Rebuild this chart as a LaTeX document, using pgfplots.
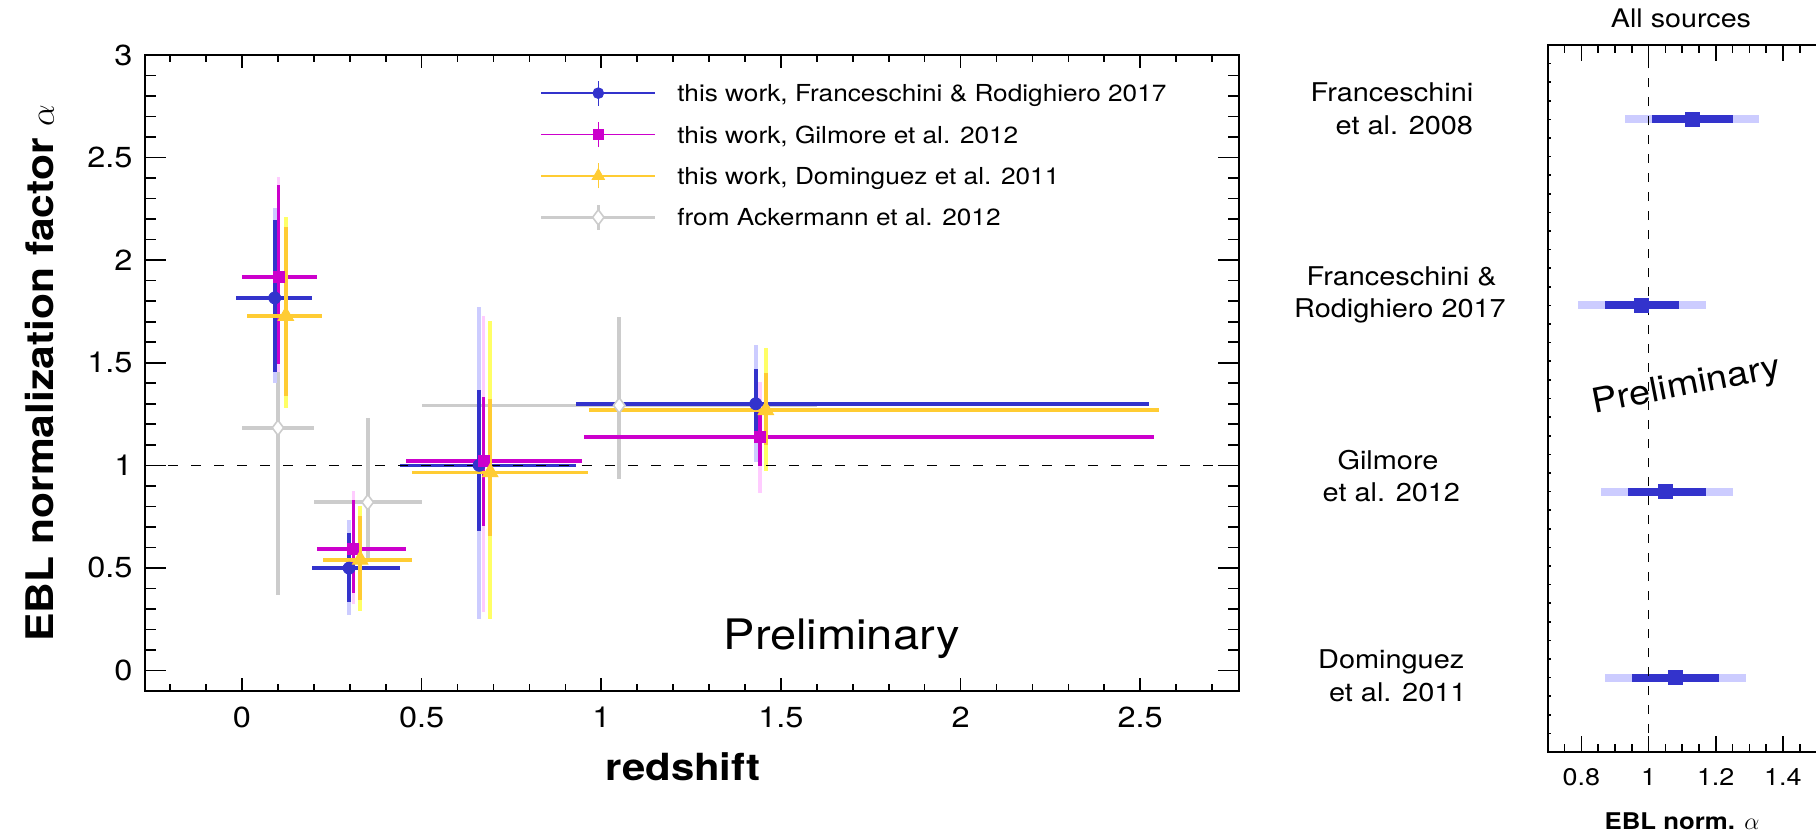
\documentclass[border=0pt]{standalone}
\usepackage{fontspec}
\setmainfont[FakeStretch=1.12]{TeX Gyre Heros}
\usepackage{pgfplots}
\pgfplotsset{compat=1.18}
\usepackage{pgfplotstable}

\definecolor{blueD}{RGB}{51,51,204}
\definecolor{blueL}{RGB}{204,204,255}
\definecolor{magD}{RGB}{204,0,204}
\definecolor{magL}{RGB}{255,204,255}
\definecolor{yelD}{RGB}{255,204,51}
\definecolor{yelL}{RGB}{255,255,102}
\definecolor{grayc}{RGB}{204,204,204}

% z, alpha, bin half-widths (zm,zp), stat errors (dm,dp), total errors (lm,lp)
\pgfplotstableread{
z     a     zm    zp    dm    dp    lm    lp
0.091 1.816 0.107 0.104 0.361 0.381 0.416 0.438
0.298 0.499 0.103 0.143 0.163 0.171 0.228 0.233
0.660 1.000 0.219 0.270 0.322 0.367 0.750 0.772
1.430 1.300 0.500 1.094 0.170 0.171 0.285 0.287
}\frdata

\pgfplotstableread{
z     a     zm    zp    dm    dp    lm    lp
0.102 1.917 0.102 0.107 0.425 0.450 0.464 0.490
0.310 0.592 0.101 0.146 0.215 0.241 0.267 0.285
0.672 1.020 0.216 0.274 0.318 0.313 0.733 0.708
1.441 1.137 0.490 1.097 0.138 0.140 0.271 0.271
}\gildata

\pgfplotstableread{
z     a     zm    zp    dm    dp    lm    lp
0.122 1.728 0.108 0.102 0.390 0.435 0.447 0.484
0.329 0.540 0.103 0.143 0.196 0.211 0.248 0.264
0.691 0.966 0.219 0.273 0.309 0.355 0.716 0.738
1.458 1.269 0.492 1.095 0.169 0.179 0.298 0.305
}\domdata

\pgfplotstableread{
z    a     zm   zp   dm    dp
0.10 1.183 0.10 0.10 0.814 0.940
0.35 0.820 0.15 0.15 0.290 0.409
1.05 1.292 0.55 0.55 0.361 0.429
}\ackdata

% combined fits over all sources: row, alpha, stat (dm,dp), total (lm,lp)
\pgfplotstableread{
row a    dm   dp   lm   lp
4   1.13 0.12 0.12 0.20 0.20
3   0.98 0.11 0.11 0.19 0.19
2   1.05 0.11 0.12 0.19 0.20
1   1.08 0.13 0.13 0.21 0.21
}\alldata

\pgfplotsset{
  panel/.style={
    scale only axis, anchor=south west,
    tick align=inside, tick pos=both,
    axis line style={line width=1pt},
    tick style={line width=0.8pt, black},
    /pgf/number format/assume math mode=true,
  },
  lightbars/.style={forget plot, only marks, mark=none,
    error bars/.cd, y dir=both, y explicit, error mark=none,
    error bar style={line width=1.8pt, #1}},
  darkbars/.style={forget plot, only marks, #1,
    error bars/.cd, x dir=both, x explicit, y dir=both, y explicit, error mark=none,
    error bar style={line width=1.8pt, #1}},
}

\begin{document}
\begin{tikzpicture}

% ---------------- left panel: alpha versus redshift ----------------
\begin{axis}[panel,
  at={(72.5pt,70.5pt)},
  width=547pt, height=318pt,
  xmin=-0.27, xmax=2.775, ymin=-0.1, ymax=3,
  xtick={0,0.5,1,1.5,2,2.5},
  minor xtick={-0.2,-0.1,0.1,0.2,0.3,0.4,0.6,0.7,0.8,0.9,1.1,1.2,1.3,1.4,1.6,1.7,1.8,1.9,2.1,2.2,2.3,2.4,2.6,2.7},
  ytick={0,0.5,1,1.5,2,2.5,3},
  minor ytick={0.1,0.2,0.3,0.4,0.6,0.7,0.8,0.9,1.1,1.2,1.3,1.4,1.6,1.7,1.8,1.9,2.1,2.2,2.3,2.4,2.6,2.7,2.8,2.9},
  major tick length=6.7pt, minor tick length=3.3pt,
  xticklabel style={font=\fontsize{14.5}{16}\selectfont, yshift=-4.5pt},
  yticklabel style={font=\fontsize{14.5}{16}\selectfont, xshift=-2.7pt},
  xlabel={\bfseries redshift},
  ylabel={\bfseries EBL normalization factor $\alpha$},
  xlabel style={at={(axis description cs:0.4918,-0.119)}, anchor=center, font=\fontsize{18.7}{21}\selectfont},
  ylabel style={at={(axis description cs:-0.096,0.5)}, anchor=center, font=\fontsize{19}{22}\selectfont},
  legend style={at={(axis description cs:0.3607,0.9732)}, anchor=north west,
    draw=none, fill=none, inner xsep=0pt, inner ysep=0pt, row sep=0pt,
    font=\fontsize{11.7}{13}\selectfont, nodes={inner sep=0pt, text depth=0pt}},
  legend cell align=left,
]

% Ackermann et al. 2012
\addplot[forget plot, only marks, mark=diamond*, mark size=3.8pt,
  mark options={fill=white, draw=grayc, line width=0.8pt},
  error bars/.cd, x dir=both, x explicit, y dir=both, y explicit, error mark=none,
  error bar style={line width=1.8pt, grayc}]
  table[x=z, y=a, x error minus=zm, x error plus=zp, y error minus=dm, y error plus=dp]{\ackdata};

% Franceschini & Rodighiero 2017
\addplot[lightbars=blueL] table[x=z, y=a, y error minus=lm, y error plus=lp]{\frdata};
\addplot[mark=*, mark size=3pt, darkbars=blueD]
  table[x=z, y=a, x error minus=zm, x error plus=zp, y error minus=dm, y error plus=dp]{\frdata};

% Gilmore et al. 2012
\addplot[lightbars=magL] table[x=z, y=a, y error minus=lm, y error plus=lp]{\gildata};
\addplot[mark=square*, mark size=2.75pt, darkbars=magD]
  table[x=z, y=a, x error minus=zm, x error plus=zp, y error minus=dm, y error plus=dp]{\gildata};

% Dominguez et al. 2011
\addplot[lightbars=yelL] table[x=z, y=a, y error minus=lm, y error plus=lp]{\domdata};
\addplot[mark=triangle*, mark size=4.5pt, darkbars=yelD]
  table[x=z, y=a, x error minus=zm, x error plus=zp, y error minus=dm, y error plus=dp]{\domdata};

% alpha = 1
\addplot[forget plot, black, line width=0.7pt, dash pattern=on 5pt off 6.5pt]
  coordinates {(-0.27,1) (2.775,1)};

\node[anchor=base, font=\fontsize{21}{24}\selectfont] at (axis cs:1.669,0.104) {Preliminary};

\addlegendimage{legend image code/.code={
  \path[draw=none, fill=none] (0pt,-10.35pt) rectangle (68pt,10.35pt);
  \draw[blueD, line width=0.7pt] (0pt,0pt) -- (57pt,0pt);
  \draw[blueD, line width=0.7pt] (28.5pt,-6.25pt) -- (28.5pt,6.25pt);
  \draw[blueD, fill=blueD] plot[mark=*, mark size=2.7pt] coordinates {(28.5pt,0pt)};
}}
\addlegendentry{this work, Franceschini \& Rodighiero 2017}
\addlegendimage{legend image code/.code={
  \path[draw=none, fill=none] (0pt,-10.35pt) rectangle (68pt,10.35pt);
  \draw[magD, line width=0.7pt] (0pt,0pt) -- (57pt,0pt);
  \draw[magD, line width=0.7pt] (28.5pt,-6.25pt) -- (28.5pt,6.25pt);
  \draw[magD, fill=magD] plot[mark=square*, mark size=2.6pt] coordinates {(28.5pt,0pt)};
}}
\addlegendentry{this work, Gilmore et al. 2012}
\addlegendimage{legend image code/.code={
  \path[draw=none, fill=none] (0pt,-10.35pt) rectangle (68pt,10.35pt);
  \draw[yelD, line width=0.7pt] (0pt,0pt) -- (57pt,0pt);
  \draw[yelD, line width=0.7pt] (28.5pt,-6.25pt) -- (28.5pt,6.25pt);
  \draw[yelD, fill=yelD] plot[mark=triangle*, mark size=3.6pt] coordinates {(28.5pt,0pt)};
}}
\addlegendentry{this work, Dominguez et al. 2011}
\addlegendimage{legend image code/.code={
  \path[draw=none, fill=none] (0pt,-10.35pt) rectangle (68pt,10.35pt);
  \draw[grayc, line width=1.3pt] (0pt,0pt) -- (57pt,0pt);
  \draw[grayc, line width=1.3pt] (28.5pt,-6.25pt) -- (28.5pt,6.25pt);
  \draw[grayc, fill=white, line width=0.8pt] plot[mark=diamond*, mark size=3.8pt] coordinates {(28.5pt,0pt)};
}}
\addlegendentry{from Ackermann et al. 2012}
\end{axis}

% longer y ticks of the left panel
\begin{axis}[panel,
  at={(72.5pt,70.5pt)},
  width=547pt, height=318pt,
  xmin=-0.27, xmax=2.775, ymin=-0.1, ymax=3,
  xtick=\empty,
  ytick={0,0.5,1,1.5,2,2.5,3}, yticklabels={},
  minor ytick={0.1,0.2,0.3,0.4,0.6,0.7,0.8,0.9,1.1,1.2,1.3,1.4,1.6,1.7,1.8,1.9,2.1,2.2,2.3,2.4,2.6,2.7,2.8,2.9},
  major tick length=10.3pt, minor tick length=5.3pt,
]
\end{axis}

% ---------------- right panel: all sources ----------------
\begin{axis}[panel,
  at={(773.85pt,40pt)},
  width=134.4pt, height=353.5pt,
  xmin=0.7, xmax=1.5, ymin=0.6, ymax=4.4,
  xtick={0.8,1,1.2,1.4},
  minor xtick={0.75,0.85,0.9,0.95,1.05,1.1,1.15,1.25,1.3,1.35,1.45},
  ytick=\empty,
  major tick length=7.8pt, minor tick length=4pt,
  xticklabel style={font=\fontsize{12}{14}\selectfont, yshift=-4.85pt},
  xlabel={\bfseries EBL norm. $\alpha$},
  xlabel style={at={(axis description cs:0.5,-0.0972)}, anchor=center, font=\fontsize{11.5}{13}\selectfont},
]
\addplot[forget plot, only marks, mark=none,
  error bars/.cd, x dir=both, x explicit, error mark=none,
  error bar style={line width=4pt, blueL}]
  table[x=a, y=row, x error minus=lm, x error plus=lp]{\alldata};
\addplot[forget plot, only marks, blueD, mark=square*, mark size=3.5pt,
  error bars/.cd, x dir=both, x explicit, error mark=none,
  error bar style={line width=4pt, blueD}]
  table[x=a, y=row, x error minus=dm, x error plus=dp]{\alldata};
\addplot[forget plot, black, line width=0.7pt, dash pattern=on 4.5pt off 5pt]
  coordinates {(1,0.6) (1,4.4)};
\end{axis}

% small y ticks of the right panel
\begin{axis}[panel,
  at={(773.85pt,40pt)},
  width=134.4pt, height=353.5pt,
  xmin=0.7, xmax=1.5, ymin=0.6, ymax=4.4,
  xtick=\empty, ytick pos=left,
  ytick={0.7,0.8,0.9,1.0,1.1,1.2,1.3,1.4,1.5,1.6,1.7,1.8,1.9,2.0,2.1,2.2,2.3,2.4,2.5,2.6,2.7,2.8,2.9,3.0,3.1,3.2,3.3,3.4,3.5,3.6,3.7,3.8,3.9,4.0,4.1,4.2,4.3},
  yticklabels={},
  major tick length=1.5pt,
]
\end{axis}

% panel title and source labels of the right panel
\node[anchor=center, font=\fontsize{12.8}{15}\selectfont] at (840.5pt,407pt) {All sources};
\begin{scope}[every node/.style={anchor=base, font=\fontsize{12.9}{15}\selectfont}]
\node at (696pt,365.05pt) {Franceschini};
\node at (702.2pt,348.7pt) {et al. 2008};
\node at (700.8pt,273.35pt) {Franceschini \&};
\node at (700pt,257.05pt) {Rodighiero 2017};
\node at (694pt,181.2pt) {Gilmore};
\node at (695.7pt,165.35pt) {et al. 2012};
\node at (695.6pt,81.7pt) {Dominguez};
\node at (698.9pt,65.05pt) {et al. 2011};
\end{scope}
\node[rotate=11, font=\fontsize{17}{20}\selectfont] at (843.35pt,222.65pt) {Preliminary};

\pgfresetboundingbox
\useasboundingbox (0pt,0pt) rectangle (908pt,416pt);
\end{tikzpicture}
\end{document}
